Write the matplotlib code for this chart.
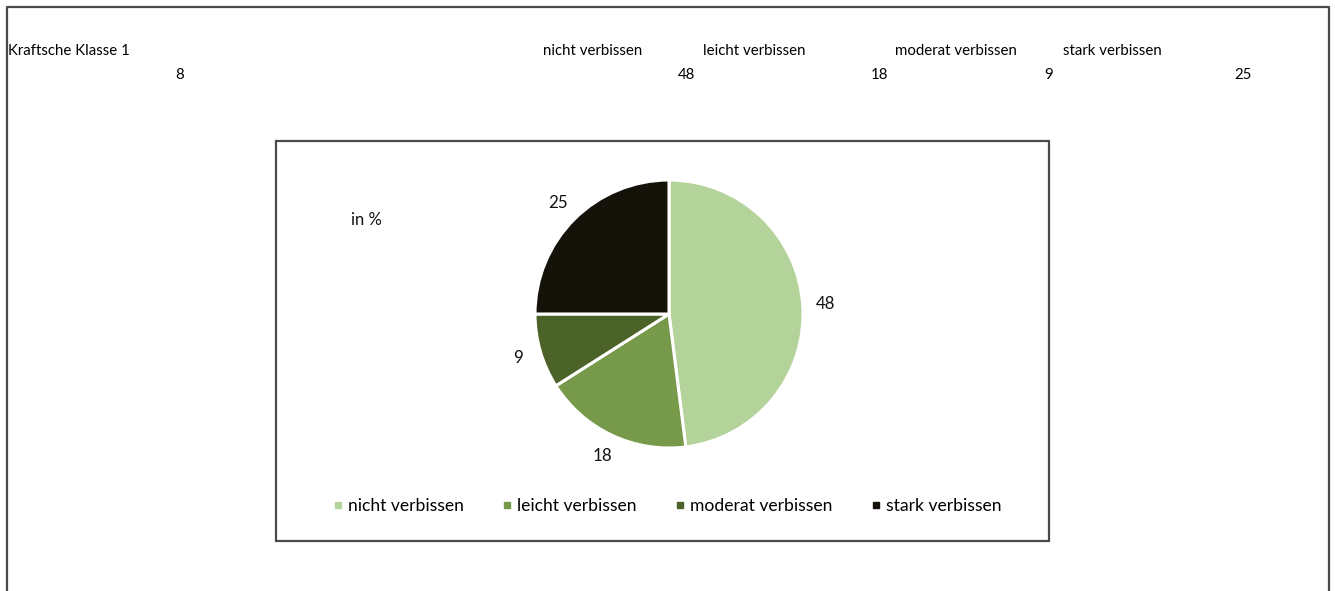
import matplotlib
matplotlib.use('Agg')
import matplotlib.pyplot as plt
from matplotlib.lines import Line2D
from matplotlib.patches import Rectangle

plt.rcParams['font.family'] = ['Lato', 'DejaVu Sans']

# Verbissklassen und Anteile in %
kategorien = ['nicht verbissen', 'leicht verbissen', 'moderat verbissen', 'stark verbissen']
anteile = [48, 18, 9, 25]
farben = ['#b4d39b', '#76994a', '#4b6329', '#15120a']
klasse = 'Kraftsche Klasse 1'
klasse_wert = 8

W, H = 1335, 591


def fx(x):
    return x / W


def fy(y):
    return 1 - y / H


fig = plt.figure(figsize=(W / 100, H / 100), dpi=100)
fig.patch.set_facecolor('white')

# aeusserer Rahmen (unten offen)
fig.add_artist(Line2D([fx(6.5), fx(6.5), fx(1329), fx(1329)],
                      [fy(600), fy(7), fy(7), fy(600)],
                      transform=fig.transFigure, color='#4a4a4a', lw=1.6))

# Kopfzeile der Tabelle
kopf = dict(fontsize=10.8, va='center', color='#000')
fig.text(fx(8), fy(51), klasse, ha='left', **kopf)
fig.text(fx(180), fy(75), str(klasse_wert), ha='center', **kopf)
kopf_x = [543, 703, 895, 1063]
wert_x = [687, 880, 1049, 1243]
for name, wert, kx, wx in zip(kategorien, anteile, kopf_x, wert_x):
    fig.text(fx(kx), fy(51), name, ha='left', **kopf)
    fig.text(fx(wx), fy(75), str(wert), ha='center', **kopf)

# Diagrammrahmen
fig.add_artist(Rectangle((fx(276), fy(541)), fx(1049) - fx(276), fy(141) - fy(541),
                         transform=fig.transFigure, fill=False, edgecolor='#4a4a4a', lw=1.6))
fig.text(fx(366), fy(220), 'in %', fontsize=12, va='center', ha='center', color='#111')

# Kreisdiagramm
cx, cy, r = 669, 314, 134
ax = fig.add_axes([fx(cx - r), fy(cy + r), (2 * r) / W, (2 * r) / H])
ax.pie(anteile, colors=farben, startangle=90, counterclock=False,
       autopct=lambda p: f'{p:.0f}', pctdistance=1.17,
       wedgeprops=dict(edgecolor='white', linewidth=2.2),
       textprops=dict(fontsize=12.2, color='#111'))
ax.set_xlim(-1, 1)
ax.set_ylim(-1, 1)
ax.set_aspect('auto')
ax.axis('off')

# Legende
griffe = [Line2D([], [], marker='s', linestyle='none', color=c, markersize=5) for c in farben]
fig.legend(griffe, kategorien, loc='center', bbox_to_anchor=(fx(667), fy(506)),
           ncol=4, frameon=False, fontsize=12.6, handlelength=0.6, handletextpad=0.3,
           columnspacing=2.15)

fig.savefig('out.png', dpi=100)
